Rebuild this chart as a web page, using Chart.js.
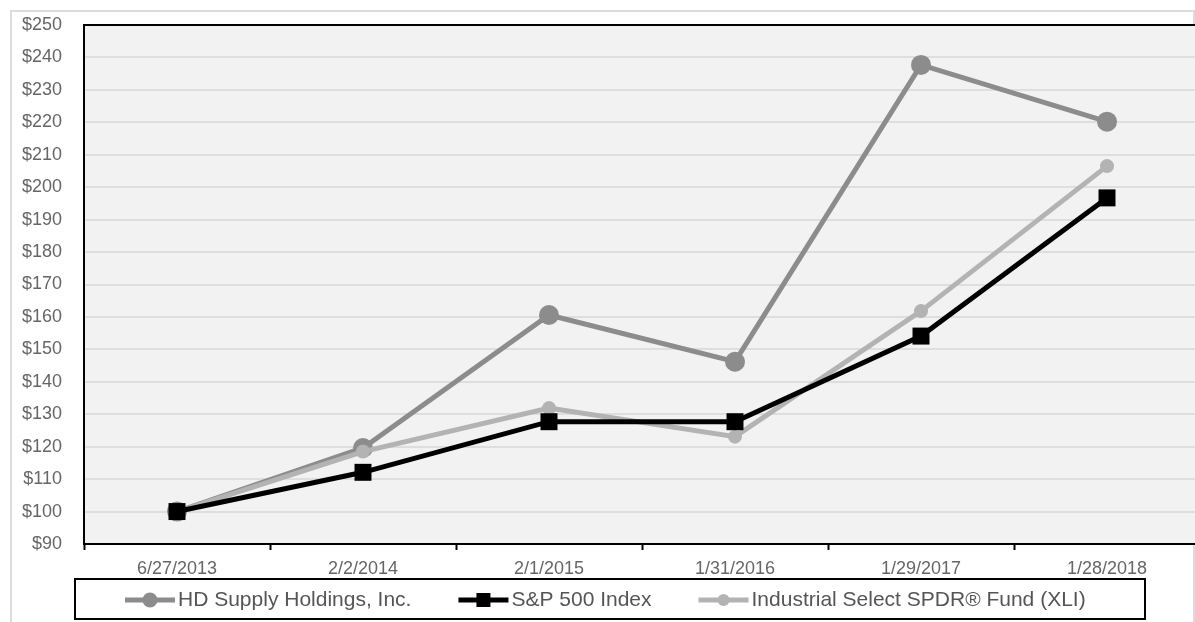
<!DOCTYPE html>
<html>
<head>
<meta charset="utf-8">
<script src="https://cdn.jsdelivr.net/npm/chart.js@4"></script>
<style>
  html, body { margin: 0; padding: 0; background: #fff; overflow: hidden; }
  #wrap { position: absolute; left: 0; top: 0; width: 1212px; height: 622px; }
</style>
</head>
<body>
<div id="wrap"><canvas id="chart" width="1212" height="622"></canvas></div>
<script>
const dates = ["6/27/2013", "2/2/2014", "2/1/2015", "1/31/2016", "1/29/2017", "1/28/2018"];
const hdSupply = [100, 119.6, 160.6, 146.2, 237.7, 220.2];
const sp500 = [100, 112.1, 127.7, 127.7, 154.1, 196.7];
const xli = [100, 118.5, 131.9, 123.1, 161.8, 206.5];
const seriesNames = ["HD Supply Holdings, Inc.", "S&P 500 Index", "Industrial Select SPDR\u00AE Fund (XLI)"];

const FONT = "'Liberation Sans', Arial, sans-serif";

// background, outer frame and plot border
const framePlugin = {
  id: "frame",
  beforeDraw(chart) {
    const { ctx, chartArea: a } = chart;
    ctx.save();
    ctx.fillStyle = "#fff";
    ctx.fillRect(0, 0, chart.width, chart.height);
    ctx.strokeStyle = "#dcdcdc";
    ctx.lineWidth = 2;
    ctx.strokeRect(11, 11, 1183, 700);
    ctx.fillStyle = "#f2f2f2";
    ctx.fillRect(a.left, a.top, a.right - a.left, a.bottom - a.top);
    ctx.restore();
  },
  beforeDatasetsDraw(chart) {
    const { ctx, chartArea: a } = chart;
    ctx.save();
    ctx.strokeStyle = "#000";
    ctx.lineWidth = 2;
    ctx.beginPath();
    ctx.moveTo(a.left - 1, a.top);
    ctx.lineTo(a.right, a.top);
    ctx.stroke();
    ctx.restore();
  }
};

// boxed legend with line + marker samples
const legendPlugin = {
  id: "boxLegend",
  afterDraw(chart) {
    const { ctx } = chart;
    const box = { x: 75, y: 579, w: 1070, h: 40 };
    ctx.save();
    ctx.fillStyle = "#fff";
    ctx.fillRect(box.x, box.y, box.w, box.h);
    ctx.strokeStyle = "#000";
    ctx.lineWidth = 2;
    ctx.strokeRect(box.x, box.y, box.w, box.h);

    ctx.font = "21px " + FONT;
    const sample = 50, gapText = 3, gapItem = 47;
    const sets = chart.data.datasets;
    const widths = sets.map(d => sample + gapText + ctx.measureText(d.label).width);
    let x = 125;
    const cy = box.y + box.h / 2 + 1;
    sets.forEach((d, i) => {
      ctx.strokeStyle = d.borderColor;
      ctx.lineWidth = 5;
      ctx.beginPath();
      ctx.moveTo(x, cy);
      ctx.lineTo(x + sample, cy);
      ctx.stroke();
      ctx.fillStyle = d.pointBackgroundColor;
      const mx = x + sample / 2;
      if (d.pointStyle === "rect") {
        ctx.fillRect(mx - 7, cy - 7, 14, 14);
      } else {
        ctx.beginPath();
        ctx.arc(mx, cy, i === 0 ? 7.5 : 6, 0, Math.PI * 2);
        ctx.fill();
      }
      ctx.fillStyle = "#555";
      ctx.textBaseline = "middle";
      ctx.textAlign = "left";
      ctx.fillText(d.label, x + sample + gapText, cy);
      x += widths[i] + gapItem;
    });
    ctx.restore();
  }
};

new Chart(document.getElementById("chart"), {
  type: "line",
  data: {
    labels: dates,
    datasets: [
      {
        label: seriesNames[0], data: hdSupply, order: 3,
        borderColor: "#8c8c8c", backgroundColor: "#8c8c8c",
        pointBackgroundColor: "#8c8c8c", pointBorderColor: "#8c8c8c",
        borderWidth: 5, pointRadius: 10, pointBorderWidth: 0, pointStyle: "circle"
      },
      {
        label: seriesNames[1], data: sp500, order: 1,
        borderColor: "#000", backgroundColor: "#000",
        pointBackgroundColor: "#000", pointBorderColor: "#000",
        borderWidth: 5, pointRadius: 12, pointBorderWidth: 0, pointStyle: "rect"
      },
      {
        label: seriesNames[2], data: xli, order: 2,
        borderColor: "#b3b3b3", backgroundColor: "#b3b3b3",
        pointBackgroundColor: "#b3b3b3", pointBorderColor: "#b3b3b3",
        borderWidth: 5, pointRadius: 7, pointBorderWidth: 0, pointStyle: "circle"
      }
    ]
  },
  options: {
    responsive: false,
    animation: false,
    devicePixelRatio: 1,
    layout: { padding: { left: 0, top: 25, right: 12, bottom: 0 } },
    plugins: { legend: { display: false }, tooltip: { enabled: false } },
    elements: { line: { tension: 0 } },
    scales: {
      x: {
        offset: true,
        afterFit: s => { s.height = 78; },
        grid: {
          offset: true, drawOnChartArea: false, drawTicks: true,
          tickLength: 6, tickWidth: 2, tickColor: "#000"
        },
        border: { display: true, color: "#000", width: 2 },
        ticks: { color: "#666", font: { family: FONT, size: 18 }, padding: 8, maxRotation: 0 }
      },
      y: {
        min: 90, max: 250,
        afterFit: s => { s.width = 84; s.paddingTop = 0; s.paddingBottom = 0; },
        grid: { color: "#dedede", lineWidth: 2, drawTicks: false },
        border: { display: true, color: "#000", width: 2 },
        ticks: {
          stepSize: 10, padding: 22, color: "#666",
          font: { family: FONT, size: 18 },
          callback: v => "$" + v
        }
      }
    }
  },
  plugins: [framePlugin, legendPlugin]
});
</script>
</body>
</html>
